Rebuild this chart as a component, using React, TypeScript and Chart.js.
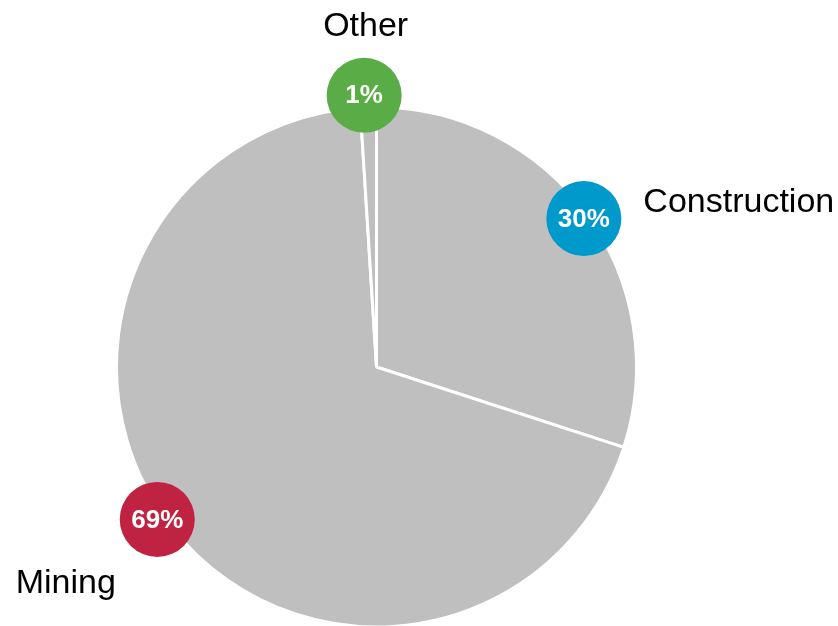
import React, { useEffect, useRef } from "react";
import { Chart, registerables } from "chart.js";

Chart.register(...registerables);

const categories = ["Construction", "Mining", "Other"];
const values = [30, 69, 1];
const badgeColors = ["#0099cc", "#c02341", "#5aad46"];

// label placement styling (relative to each arc's mid angle / badge)
const badgeTweaks = [
  { dAngle: 0.4, dR: -5, nameDx: 59.5, nameDy: -6.5, align: "left" },
  { dAngle: 3, dR: 7, nameDx: -91.5, nameDy: 73.5, align: "center" },
  { dAngle: -0.8, dR: 12, nameDx: 1.5, nameDy: -59.5, align: "center" },
];

const labelPlugin = {
  id: "badgeLabels",
  afterDatasetsDraw(chart: any) {
    const ctx = chart.ctx as CanvasRenderingContext2D;
    const meta = chart.getDatasetMeta(0);
    const total = values.reduce((a, b) => a + b, 0);
    meta.data.forEach((arc: any, i: number) => {
      const { x, y, startAngle, endAngle, outerRadius } = arc.getProps(
        ["x", "y", "startAngle", "endAngle", "outerRadius"],
        true
      );
      const t = badgeTweaks[i];
      const mid = (startAngle + endAngle) / 2 + (t.dAngle * Math.PI) / 180;
      const r = outerRadius + t.dR;
      const cx = x + Math.cos(mid) * r;
      const cy = y + Math.sin(mid) * r;
      ctx.save();
      ctx.beginPath();
      ctx.arc(cx, cy, 37.5, 0, Math.PI * 2);
      ctx.fillStyle = badgeColors[i];
      ctx.fill();
      ctx.fillStyle = "#ffffff";
      ctx.font = "bold 26px 'Liberation Sans', Arial, sans-serif";
      ctx.textAlign = "center";
      ctx.textBaseline = "middle";
      ctx.fillText(Math.round((values[i] / total) * 100) + "%", cx, cy + 1);
      ctx.fillStyle = "#000000";
      ctx.font = "34px 'Liberation Sans', Arial, sans-serif";
      ctx.textAlign = t.align as CanvasTextAlign;
      ctx.textBaseline = "alphabetic";
      ctx.fillText(categories[i], cx + t.nameDx, cy + t.nameDy);
      ctx.restore();
    });
  },
};

export default function App() {
  const ref = useRef<HTMLCanvasElement | null>(null);
  useEffect(() => {
    document.body.style.margin = "0";
    if (!ref.current) return;
    const chart = new Chart(ref.current, {
      type: "pie",
      data: {
        labels: categories,
        datasets: [
          {
            data: values,
            backgroundColor: "#bfbfbf",
            borderColor: "#ffffff",
            borderWidth: 3,
            hoverOffset: 0,
          },
        ],
      },
      options: {
        animation: false,
        responsive: true,
        maintainAspectRatio: false,
        layout: { padding: { left: 115, right: 200, top: 105.5, bottom: 1.5 } },
        plugins: {
          legend: { display: false },
          tooltip: { enabled: false },
        },
      },
      plugins: [labelPlugin],
    });
    return () => chart.destroy();
  }, []);
  return (
    <div style={{ width: 838, height: 626, overflow: "hidden", background: "#fff" }}>
      <div style={{ width: 838, height: 630, position: "relative" }}>
        <canvas ref={ref} />
      </div>
    </div>
  );
}
